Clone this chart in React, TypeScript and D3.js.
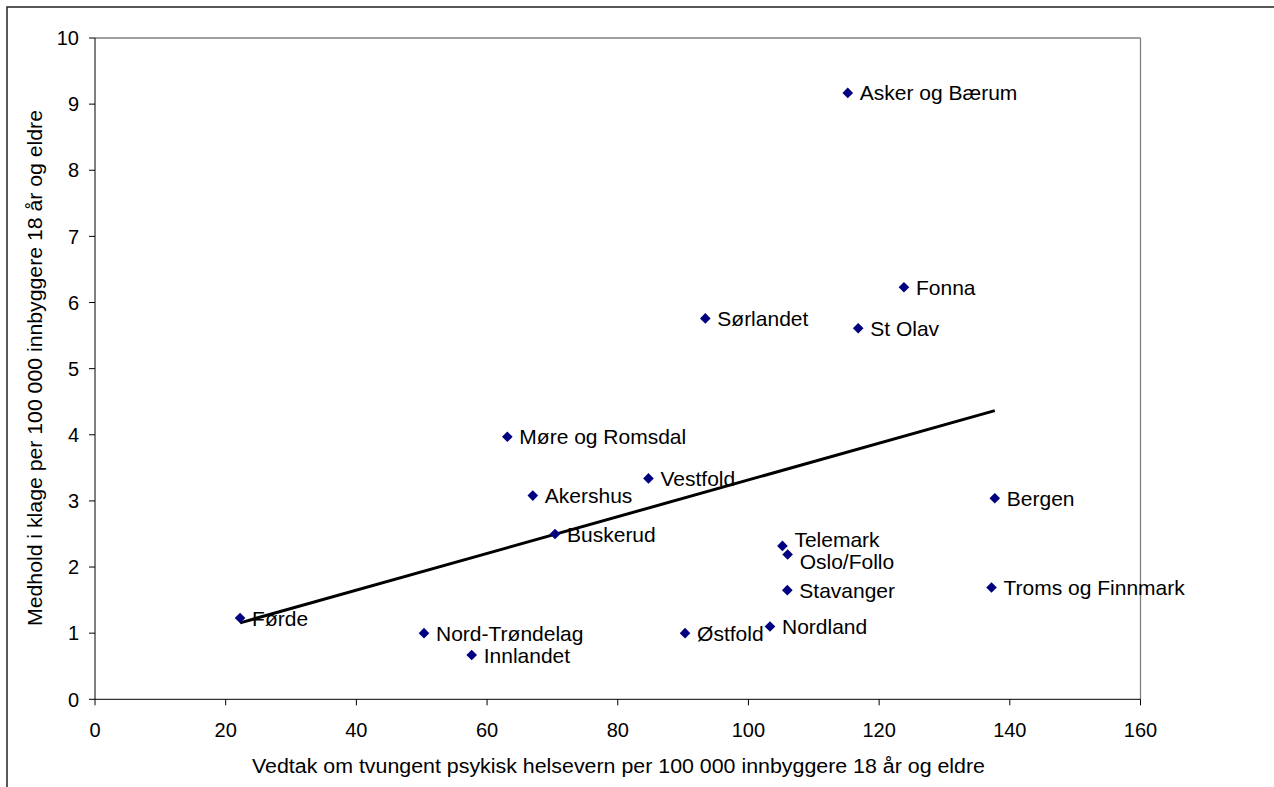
import React from "react";
import * as d3 from "d3";

const regions: string[] = [
  "Førde", "Nord-Trøndelag", "Innlandet", "Møre og Romsdal", "Akershus", "Vestfold",
  "Buskerud", "Østfold", "Nordland", "Telemark", "Oslo/Follo", "Stavanger",
  "Troms og Finnmark", "Bergen", "Asker og Bærum", "Fonna", "St Olav", "Sørlandet",
];
const vedtak: number[] = [
  22.2, 50.35, 57.65, 63.1, 67.0, 84.7,
  70.4, 90.3, 103.3, 105.2, 106.0, 105.95,
  137.2, 137.7, 115.2, 123.8, 116.8, 93.4,
];
const medhold: number[] = [
  1.23, 1.0, 0.67, 3.97, 3.08, 3.34,
  2.5, 1.0, 1.1, 2.32, 2.19, 1.65,
  1.69, 3.04, 9.17, 6.23, 5.61, 5.76,
];
const xTicks: number[] = [0, 20, 40, 60, 80, 100, 120, 140, 160];
const yTicks: number[] = [0, 1, 2, 3, 4, 5, 6, 7, 8, 9, 10];
const xTitle = "Vedtak om tvungent psykisk helsevern per 100 000 innbyggere 18 år og eldre";
const yTitle = "Medhold i klage per 100 000 innbyggere 18 år og eldre";

// label vertical nudges (px) to avoid overlaps, as in the original
const labelDy: Record<string, number> = { "Telemark": -6, "Oslo/Follo": 7 };

const W = 1274;
const H = 787;
const M = { left: 95, right: 1140.5, top: 38, bottom: 699.3 };
const FONT = "'Liberation Sans', Arial, Helvetica, sans-serif";

export default function App() {
  const x = d3.scaleLinear().domain([0, 160]).range([M.left, M.right]);
  const y = d3.scaleLinear().domain([0, 10]).range([M.bottom, M.top]);

  const data = regions.map((name, i) => ({ name, x: vedtak[i], y: medhold[i] }));

  // least-squares trend line
  const mx = d3.mean(vedtak)!;
  const my = d3.mean(medhold)!;
  const sxy = d3.sum(data, (d) => (d.x - mx) * (d.y - my));
  const sxx = d3.sum(data, (d) => (d.x - mx) ** 2);
  const slope = sxy / sxx;
  const icpt = my - slope * mx;
  const [x0, x1] = d3.extent(vedtak) as [number, number];
  const trend = d3.line<number>().x((v) => x(v)).y((v) => y(icpt + slope * v))([x0, x1]);

  const diamond = d3.symbol().type(d3.symbolDiamond2).size(72)();

  return (
    <div style={{ position: "fixed", left: 0, top: 0 }}>
      <svg width={W} height={H} style={{ display: "block", background: "#fff" }} fontFamily={FONT}>
        <rect x={0} y={0} width={W} height={H} fill="#fff" />
        <rect x={7} y={7} width={W + 20} height={H + 20} fill="none" stroke="#222" strokeWidth={1.5} />
        {/* plot frame */}
        <line x1={M.left} x2={M.right} y1={M.top} y2={M.top} stroke="#808080" strokeWidth={1.3} />
        <line x1={M.right} x2={M.right} y1={M.top} y2={M.bottom} stroke="#808080" strokeWidth={1.3} />
        <line x1={M.left} x2={M.left} y1={M.top} y2={M.bottom} stroke="#000" strokeWidth={1} />
        <line x1={M.left} x2={M.right} y1={M.bottom} y2={M.bottom} stroke="#000" strokeWidth={1} />
        {/* y ticks */}
        {yTicks.map((t) => (
          <g key={"y" + t}>
            <line x1={M.left - 6} x2={M.left} y1={y(t)} y2={y(t)} stroke="#000" />
            <text x={79} y={y(t)} dy="0.36em" textAnchor="end" fontSize={20}>{t}</text>
          </g>
        ))}
        {/* x ticks */}
        {xTicks.map((t) => (
          <g key={"x" + t}>
            <line x1={x(t)} x2={x(t)} y1={M.bottom} y2={M.bottom + 6} stroke="#000" />
            <text x={x(t)} y={737} textAnchor="middle" fontSize={20}>{t}</text>
          </g>
        ))}
        {/* trend line */}
        <path d={trend!} fill="none" stroke="#000" strokeWidth={3} />
        {/* points */}
        {data.map((d) => (
          <g key={d.name}>
            <path d={diamond} transform={`translate(${x(d.x)},${y(d.y)})`} fill="#000080" />
            <text x={x(d.x) + 12} y={y(d.y) + (labelDy[d.name] || 0)} dy="0.36em" fontSize={21} fill="#000">
              {d.name}
            </text>
          </g>
        ))}
        {/* axis titles */}
        <text x={618.5} y={773} textAnchor="middle" fontSize={20} textLength={733} lengthAdjust="spacingAndGlyphs">{xTitle}</text>
        <text transform={`translate(42,368) rotate(-90)`} textAnchor="middle" fontSize={20} textLength={516} lengthAdjust="spacingAndGlyphs">{yTitle}</text>
      </svg>
    </div>
  );
}
